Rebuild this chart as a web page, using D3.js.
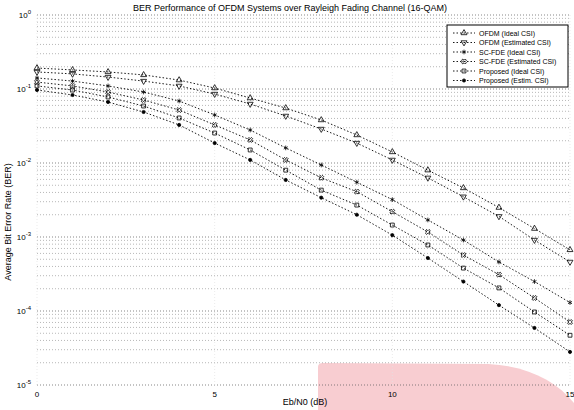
<!DOCTYPE html>
<html>
<head>
<meta charset="utf-8">
<script src="https://cdn.jsdelivr.net/npm/d3@7"></script>
<style>
  body { margin: 0; background: #fff; }
  svg { font-family: "Liberation Sans", Arial, sans-serif; }
</style>
</head>
<body>
<div id="card"></div>
<script>
//chart data
const snr = [0, 1, 2, 3, 4, 5, 6, 7, 8, 9, 10, 11, 12, 13, 14, 15];
const seriesNames = [
  "OFDM (Ideal CSI)",
  "OFDM (Estimated CSI)",
  "SC-FDE (Ideal CSI)",
  "SC-FDE (Estimated CSI)",
  "Proposed (Ideal CSI)",
  "Proposed (Estim. CSI)"
];
const ber1 = [0.192, 0.181, 0.170, 0.155, 0.132, 0.103, 0.0755, 0.0553, 0.0381, 0.0239, 0.0141, 0.0080, 0.0046, 0.0025, 0.0013, 0.00067];
const ber2 = [0.170, 0.160, 0.145, 0.128, 0.110, 0.0855, 0.0627, 0.0432, 0.0288, 0.0186, 0.0110, 0.0063, 0.0035, 0.0019, 0.00091, 0.00046];
const ber3 = [0.141, 0.128, 0.110, 0.091, 0.0689, 0.0446, 0.0279, 0.0160, 0.0094, 0.0055, 0.0032, 0.0017, 0.00091, 0.00046, 0.00025, 0.00013];
const ber4 = [0.124, 0.110, 0.091, 0.071, 0.052, 0.0327, 0.0205, 0.0110, 0.0063, 0.0041, 0.0022, 0.00117, 0.00057, 0.00031, 0.00015, 0.000071];
const ber5 = [0.110, 0.0969, 0.078, 0.0589, 0.0406, 0.0254, 0.0150, 0.0080, 0.0043, 0.0027, 0.00145, 0.00078, 0.00038, 0.000205, 0.000097, 0.000047];
const ber6 = [0.097, 0.083, 0.0667, 0.0489, 0.0327, 0.0186, 0.0110, 0.0059, 0.0034, 0.0020, 0.00106, 0.00052, 0.00025, 0.00012, 0.000059, 0.000028];
const xTicks = [0, 5, 10, 15];
const yDecades = [0, -1, -2, -3, -4, -5];

const allSeries = [ber1, ber2, ber3, ber4, ber5, ber6];
const symbols = [d3.symbolTriangle, d3.symbolTriangle, d3.symbolAsterisk, d3.symbolCross, d3.symbolSquare, d3.symbolCircle];
const rotations = [0, 180, 0, 45, 0, 0];
const filled = [false, false, false, false, false, true];

//SVG canvas width and height
const w = 574;
const h = 410;
const margin = { top: 15, bottom: 25, left: 37, right: 4 };
const width = w - (margin.left + margin.right);
const height = h - (margin.top + margin.bottom);

const svg = d3.select("#card")
              .append("svg")
                .attr("width", w)
                .attr("height", h);

//pink patch in the lower right corner
svg.append("path")
  .attr("d", "M318,410 L318,367 Q318,363 323,363 L488,364 C528,366 556,381 574,403 L574,410 Z")
  .style("fill", "#f8cdd1");

const chart = svg.append("g")
                .attr("transform", "translate(" + margin.left + "," + margin.top + ")");

const x = d3.scaleLinear()
              .domain([0, 15])
              .range([0, width]);

const y = d3.scaleLog()
              .domain([1e-5, 1])
              .range([height, 0]);

//minor and major horizontal gridlines
const gridValues = [];
for (let k = -5; k < 0; k++) {
  for (let m = 1; m < 10; m++) gridValues.push(m * Math.pow(10, k));
}
gridValues.push(1);

chart.selectAll(".hgrid")
  .data(gridValues)
  .enter()
    .append("line")
    .classed("hgrid", true)
    .attr("x1", 0)
    .attr("x2", width)
    .attr("y1", d => y(d))
    .attr("y2", d => y(d))
    .style("stroke", (d, i) => i % 9 == 0 ? "#555" : "#999")
    .style("stroke-width", 0.7)
    .style("stroke-dasharray", "1,2");

//vertical gridlines, very light
chart.selectAll(".vgrid")
  .data(xTicks)
  .enter()
    .append("line")
    .classed("vgrid", true)
    .attr("x1", d => x(d))
    .attr("x2", d => x(d))
    .attr("y1", 0)
    .attr("y2", height)
    .style("stroke", "#e2e2e2")
    .style("stroke-width", 0.7)
    .style("stroke-dasharray", "1,2");

//x tick labels
chart.selectAll(".xlab")
  .data(xTicks)
  .enter()
    .append("text")
    .attr("x", d => x(d))
    .attr("y", height + 12)
    .attr("text-anchor", "middle")
    .style("font-size", "8px")
    .text(d => d);

//y tick labels as powers of ten
const ylab = chart.selectAll(".ylab")
  .data(yDecades)
  .enter()
    .append("text")
    .attr("x", -6)
    .attr("y", d => y(Math.pow(10, d)) + 3)
    .attr("text-anchor", "end")
    .style("font-size", "8px");
ylab.append("tspan").text("10");
ylab.append("tspan")
  .attr("dy", -4)
  .style("font-size", "6px")
  .text(d => d);

//lines
const line = d3.line()
                .x((d, i) => x(snr[i]))
                .y(d => y(d));

chart.selectAll(".trendline")
  .data(allSeries)
  .enter()
    .append("path")
    .classed("trendline", true)
    .attr("d", d => line(d))
    .style("fill", "none")
    .style("stroke", "#000")
    .style("stroke-width", 0.9)
    .style("stroke-dasharray", "1.5,2");

//markers
allSeries.forEach((s, k) => {
  chart.selectAll(".mk" + k)
    .data(s)
    .enter()
      .append("path")
      .attr("d", d3.symbol().type(symbols[k]).size(k == 5 ? 8 : 15))
      .attr("transform", (d, i) => "translate(" + x(snr[i]) + "," + y(d) + ") rotate(" + rotations[k] + ")")
      .style("fill", filled[k] ? "#000" : "none")
      .style("stroke", "#000")
      .style("stroke-width", 0.8);
});

//legend
const legend = svg.append("g")
                .attr("transform", "translate(447,25)");
legend.append("rect")
  .attr("width", 121)
  .attr("height", 62)
  .style("fill", "#fff")
  .style("stroke", "#000")
  .style("stroke-width", 1);

const items = legend.selectAll(".item")
  .data(seriesNames)
  .enter()
    .append("g")
    .attr("transform", (d, i) => "translate(0," + (8 + i * 9.5) + ")");
items.append("line")
  .attr("x1", 6)
  .attr("x2", 28)
  .style("stroke", "#000")
  .style("stroke-width", 0.9)
  .style("stroke-dasharray", "1.5,2");
items.append("path")
  .attr("d", (d, i) => d3.symbol().type(symbols[i]).size(i == 5 ? 8 : 15)())
  .attr("transform", (d, i) => "translate(17,0) rotate(" + rotations[i] + ")")
  .style("fill", (d, i) => filled[i] ? "#000" : "none")
  .style("stroke", "#000")
  .style("stroke-width", 0.8);
items.append("text")
  .attr("x", 32)
  .attr("y", 2.5)
  .style("font-size", "7px")
  .text(d => d);

//title and axis labels
svg.append("text")
  .attr("x", 290)
  .attr("y", 11)
  .attr("text-anchor", "middle")
  .style("font-size", "9px")
  .text("BER Performance of OFDM Systems over Rayleigh Fading Channel (16-QAM)");

svg.append("text")
  .attr("x", 305)
  .attr("y", 405)
  .attr("text-anchor", "middle")
  .style("font-size", "9px")
  .text("Eb/N0 (dB)");

svg.append("text")
  .attr("transform", "translate(11,222) rotate(-90)")
  .attr("text-anchor", "middle")
  .style("font-size", "9px")
  .text("Average Bit Error Rate (BER)");
</script>
</body>
</html>
